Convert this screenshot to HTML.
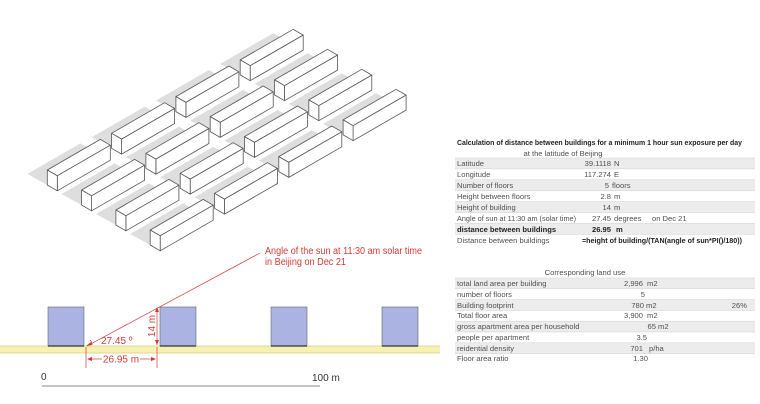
<!DOCTYPE html>
<html><head><meta charset="utf-8"><style>
html,body{margin:0;padding:0;background:#fff;}
svg{display:block;}
.t{font-family:"Liberation Sans",sans-serif;font-size:7.6px;fill:#505050;}
.b{font-weight:bold;fill:#222;}
.r{font-family:"Liberation Sans",sans-serif;font-size:10px;fill:#d23a3a;}
</style></head><body>
<svg width="760" height="404" viewBox="0 0 760 404" xmlns="http://www.w3.org/2000/svg">
<defs>
<g id="sh"><polygon points="0,15 53,-15.6 33,-26.6 -20,4" fill="#dedede"/></g>
<g id="bx" fill="#fff" stroke="#555" stroke-width="0.8" stroke-linejoin="round">
<polygon points="0,0 53,-30.6 63,-24.8 10,5.8"/>
<polygon points="10,5.8 63,-24.8 63,-9.8 10,20.8"/>
<polygon points="0,0 10,5.8 10,20.8 0,15"/>
</g>
</defs>
<g>
<use href="#sh" x="240.2" y="59.9"/><use href="#sh" x="175.9" y="96.6"/><use href="#sh" x="111.6" y="133.3"/><use href="#sh" x="47.3" y="170"/>
<use href="#sh" x="274.5" y="79.9"/><use href="#sh" x="210.2" y="116.6"/><use href="#sh" x="145.9" y="153.3"/><use href="#sh" x="81.6" y="190"/>
<use href="#sh" x="308.8" y="99.9"/><use href="#sh" x="244.5" y="136.6"/><use href="#sh" x="180.2" y="173.3"/><use href="#sh" x="115.9" y="210"/>
<use href="#sh" x="343.1" y="119.9"/><use href="#sh" x="278.8" y="156.6"/><use href="#sh" x="214.5" y="193.3"/><use href="#sh" x="150.2" y="230"/>
</g>
<g>
<use href="#bx" x="240.2" y="59.9"/><use href="#bx" x="175.9" y="96.6"/><use href="#bx" x="111.6" y="133.3"/><use href="#bx" x="47.3" y="170"/>
<use href="#bx" x="274.5" y="79.9"/><use href="#bx" x="210.2" y="116.6"/><use href="#bx" x="145.9" y="153.3"/><use href="#bx" x="81.6" y="190"/>
<use href="#bx" x="308.8" y="99.9"/><use href="#bx" x="244.5" y="136.6"/><use href="#bx" x="180.2" y="173.3"/><use href="#bx" x="115.9" y="210"/>
<use href="#bx" x="343.1" y="119.9"/><use href="#bx" x="278.8" y="156.6"/><use href="#bx" x="214.5" y="193.3"/><use href="#bx" x="150.2" y="230"/>
</g>

<rect x="0" y="346" width="440" height="7" fill="#f6f1b2"/>
<line x1="0" y1="346" x2="440" y2="346" stroke="#d8cf80" stroke-width="0.8"/>
<line x1="0" y1="353" x2="440" y2="353" stroke="#d8cf80" stroke-width="0.8"/>
<g fill="#aab3e1" stroke="#666" stroke-width="0.6">
<rect x="48" y="307" width="36" height="39"/>
<rect x="160" y="307" width="36" height="39"/>
<rect x="271" y="307" width="36" height="39"/>
<rect x="382" y="307" width="36" height="39"/>
</g>
<g stroke="#333" stroke-width="1.2"><line x1="48" y1="346" x2="84" y2="346"/><line x1="160" y1="346" x2="196" y2="346"/><line x1="271" y1="346" x2="307" y2="346"/><line x1="382" y1="346" x2="418" y2="346"/></g>
<g stroke="#d23a3a" stroke-width="0.7" fill="none">
<line x1="87" y1="346" x2="260" y2="253"/>
<line x1="157" y1="308" x2="157" y2="345"/>
<line x1="86" y1="347" x2="86" y2="368"/>
<line x1="157" y1="347" x2="157" y2="368"/>
<line x1="88" y1="359" x2="102" y2="359"/>
<line x1="140" y1="359" x2="155" y2="359"/>
<path d="M92,345 A7 7 0 0 0 90,340"/>
</g>
<g fill="#d23a3a">
<polygon points="86,346 91,342 92,345"/>
<polygon points="157,307 155,312 159,312"/>
<polygon points="157,345 155,340 159,340"/>
<polygon points="87,359 92,357 92,361"/>
<polygon points="156,359 151,357 151,361"/>
</g>
<text class="r" x="101" y="344" font-size="9.5">27.45 º</text>
<text class="r" x="121" y="362.5" text-anchor="middle" font-size="9.5">26.95 m</text>
<text class="r" transform="translate(155,326) rotate(-90)" text-anchor="middle" font-size="9.5">14 m</text>
<text class="r" x="265" y="254" textLength="157" lengthAdjust="spacingAndGlyphs">Angle of the sun at 11:30 am solar time</text>
<text class="r" x="265" y="265" textLength="81" lengthAdjust="spacingAndGlyphs">in Beijing on Dec 21</text>
<text x="41" y="380" font-family="Liberation Sans,sans-serif" font-size="10" fill="#333">0</text>
<text x="312" y="381" font-family="Liberation Sans,sans-serif" font-size="10" fill="#333">100 m</text>
<line x1="42" y1="386" x2="320" y2="386" stroke="#888" stroke-width="1"/>

<text class="t b" x="457" y="145" textLength="285" lengthAdjust="spacingAndGlyphs">Calculation of distance between buildings for a minimum 1 hour sun exposure per day</text>
<text class="t" x="563" y="156" text-anchor="middle">at the latitude of Beijing</text>
<g fill="#ececec">
<rect x="455" y="158" width="300" height="10.9"/>
<rect x="455" y="179.8" width="300" height="10.9"/>
<rect x="455" y="201.6" width="300" height="10.9"/>
<rect x="455" y="223.4" width="300" height="10.9"/>
</g>
<g stroke="#d0d0d0" stroke-width="0.5">
<line x1="455" y1="158" x2="755" y2="158"/><line x1="455" y1="168.9" x2="755" y2="168.9"/><line x1="455" y1="179.8" x2="755" y2="179.8"/><line x1="455" y1="190.7" x2="755" y2="190.7"/><line x1="455" y1="201.6" x2="755" y2="201.6"/><line x1="455" y1="212.5" x2="755" y2="212.5"/><line x1="455" y1="223.4" x2="755" y2="223.4"/><line x1="455" y1="234.3" x2="755" y2="234.3"/>
</g>
<text class="t" x="457" y="166">Latitude</text><text class="t" x="611" y="166" text-anchor="end">39.1118</text><text class="t" x="614" y="166">N</text>
<text class="t" x="457" y="177">Longitude</text><text class="t" x="611" y="177" text-anchor="end">117.274</text><text class="t" x="614" y="177">E</text>
<text class="t" x="457" y="188">Number of floors</text><text class="t" x="609" y="188" text-anchor="end">5</text><text class="t" x="612" y="188">floors</text>
<text class="t" x="457" y="199">Height between floors</text><text class="t" x="611" y="199" text-anchor="end">2.8</text><text class="t" x="614" y="199">m</text>
<text class="t" x="457" y="210">Height of building</text><text class="t" x="611" y="210" text-anchor="end">14</text><text class="t" x="614" y="210">m</text>
<text class="t" x="457" y="221" textLength="119" lengthAdjust="spacingAndGlyphs">Angle of sun at 11:30 am (solar time)</text><text class="t" x="611" y="221" text-anchor="end">27.45</text><text class="t" x="614" y="221">degrees</text><text class="t" x="652" y="221">on Dec 21</text>
<text class="t b" x="457" y="232">distance between buildings</text><text class="t b" x="611" y="232" text-anchor="end">26.95</text><text class="t b" x="616" y="232">m</text>
<text class="t" x="457" y="243">Distance between buildings</text><text class="t b" x="582" y="243" textLength="160" lengthAdjust="spacingAndGlyphs">=height of building/(TAN(angle of sun*PI()/180))</text>

<text class="t" x="585" y="275" text-anchor="middle">Corresponding land use</text>
<g fill="#ececec">
<rect x="455" y="278" width="300" height="10.8"/>
<rect x="455" y="299.6" width="300" height="10.8"/>
<rect x="455" y="321.2" width="300" height="10.8"/>
<rect x="455" y="342.8" width="300" height="10.8"/>
</g>
<g stroke="#d0d0d0" stroke-width="0.5">
<line x1="455" y1="278" x2="755" y2="278"/><line x1="455" y1="288.8" x2="755" y2="288.8"/><line x1="455" y1="299.6" x2="755" y2="299.6"/><line x1="455" y1="310.4" x2="755" y2="310.4"/><line x1="455" y1="321.2" x2="755" y2="321.2"/><line x1="455" y1="332" x2="755" y2="332"/><line x1="455" y1="342.8" x2="755" y2="342.8"/><line x1="455" y1="353.6" x2="755" y2="353.6"/>
</g>
<text class="t" x="457" y="286">total land area per building</text><text class="t" x="643" y="286" text-anchor="end">2,996</text><text class="t" x="647" y="286">m2</text>
<text class="t" x="457" y="297">number of floors</text><text class="t" x="645" y="297" text-anchor="end">5</text>
<text class="t" x="457" y="308">Building footprint</text><text class="t" x="644" y="308" text-anchor="end">780</text><text class="t" x="646" y="308">m2</text><text class="t" x="747" y="308" text-anchor="end">26%</text>
<text class="t" x="457" y="318">Total floor area</text><text class="t" x="643" y="318" text-anchor="end">3,900</text><text class="t" x="647" y="318">m2</text>
<text class="t" x="457" y="329">gross apartment area per household</text><text class="t" x="656" y="329" text-anchor="end">65</text><text class="t" x="658" y="329">m2</text>
<text class="t" x="457" y="340">people per apartment</text><text class="t" x="647" y="340" text-anchor="end">3.5</text>
<text class="t" x="457" y="351">reidential density</text><text class="t" x="643" y="351" text-anchor="end">701</text><text class="t" x="649" y="351">p/ha</text>
<text class="t" x="457" y="361">Floor area ratio</text><text class="t" x="648" y="361" text-anchor="end">1.30</text>
</svg>
</body></html>
